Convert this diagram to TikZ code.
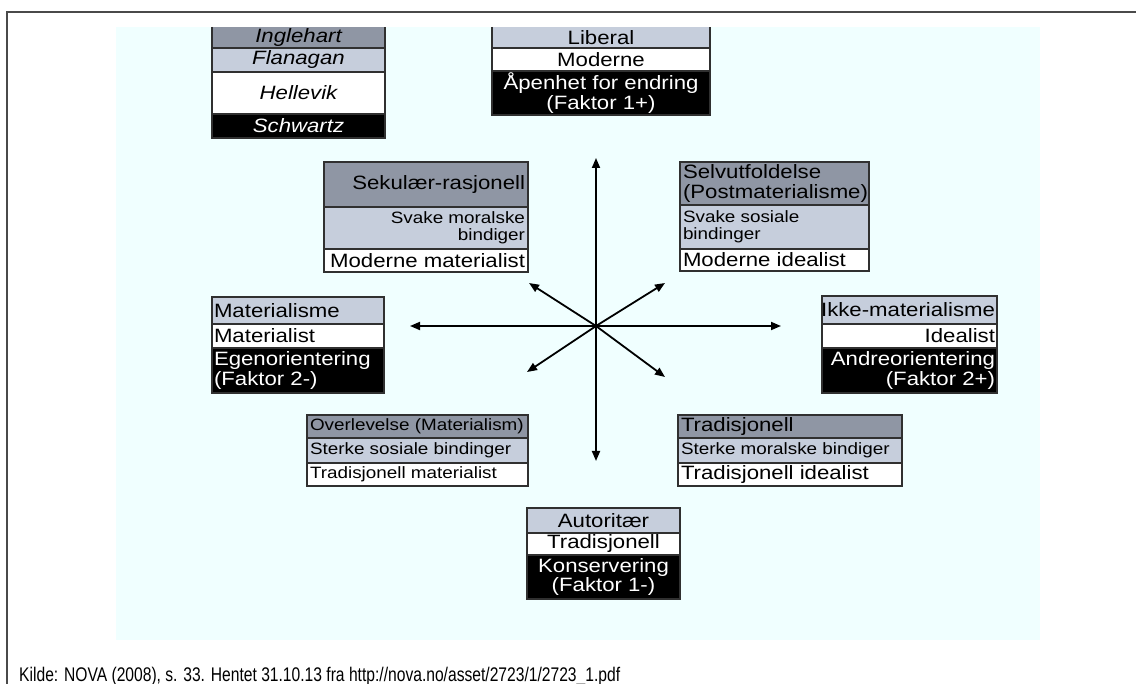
\documentclass[tikz,border=0pt]{standalone}
\usepackage{fontspec}
\setmainfont{Liberation Sans}[FakeStretch=1.15]
\usetikzlibrary{arrows.meta}
\definecolor{bgc}{HTML}{F0FFFF}
\definecolor{dk}{HTML}{8F96A4}
\definecolor{lt}{HTML}{C6CEDC}
\definecolor{edge}{HTML}{303030}
\definecolor{frm}{HTML}{4A4A4A}
\newcommand\fsBig{\fontsize{19.3}{19.5}\selectfont}
\newcommand\fsSmall{\fontsize{16.4}{17.5}\selectfont}
\begin{document}
\begin{tikzpicture}[x=1pt,y=-1pt,
  edgeline/.style={draw=edge, line width=1.2pt},
  txt/.style={inner sep=0pt, outer sep=0pt, font=\fsBig, text=black},
  wtxt/.style={txt, text=white},
  stxt/.style={txt, font=\fsSmall},
  arr/.style={line width=1.8pt, -{Triangle[length=10pt,width=8pt]}}]
\useasboundingbox (0,0) rectangle (1136,684);
% background and frame
\fill[bgc] (116,27) rectangle (1040,640);
\draw[frm, line width=1.6pt] (7,684) -- (7,12) -- (1136,12);

% ---------- legend box ----------
\fill[dk] (212,27) rectangle (385,48);
\fill[lt] (212,48) rectangle (385,72);
\fill[white] (212,72) rectangle (385,114);
\fill[black] (212,114) rectangle (385,138);
\draw[edgeline] (212,27) -- (212,138) -- (385,138) -- (385,27);
\draw[edgeline] (212,48) -- (385,48) (212,72) -- (385,72) (212,114) -- (385,114);
\node[txt, font=\fsBig\itshape] (ing) at (298.5,37.5) {Inglehart};
\node[txt, font=\fsBig\itshape] (fla) at (298.5,60) {Flanagan};
\node[txt, font=\fsBig\itshape] (hel) at (298.5,93) {Hellevik};
\node[wtxt, font=\fsBig\itshape] (sch) at (298.5,126) {Schwartz};

% ---------- top box ----------
\fill[lt] (492,27) rectangle (710,48);
\fill[white] (492,48) rectangle (710,71);
\fill[black] (492,71) rectangle (710,115);
\draw[edgeline] (492,27) -- (492,115) -- (710,115) -- (710,27);
\draw[edgeline] (492,48) -- (710,48) (492,71) -- (710,71);
\node[txt] (lib) at (601,37.5) {Liberal};
\node[txt] (mod) at (601,59.5) {Moderne};
\node[wtxt, align=center] (apn) at (601,93) {Åpenhet for endring\\(Faktor 1+)};

% ---------- Sekulaer box ----------
\fill[dk] (324,162) rectangle (528,207);
\fill[lt] (324,207) rectangle (528,249);
\fill[white] (324,249) rectangle (528,272);
\draw[edgeline] (324,162) rectangle (528,272);
\draw[edgeline] (324,207) -- (528,207) (324,249) -- (528,249);
\node[txt, anchor=east] (sek) at (525,184.5) {Sekulær-rasjonell};
\node[stxt, anchor=east, align=right] (svm) at (525,228) {Svake moralske\\bindiger};
\node[txt, anchor=east] (mma) at (525,260.5) {Moderne materialist};

% ---------- Selvutfoldelse box ----------
\fill[dk] (680,162) rectangle (869,205);
\fill[lt] (680,205) rectangle (869,249);
\fill[white] (680,249) rectangle (869,271);
\draw[edgeline] (680,162) rectangle (869,271);
\draw[edgeline] (680,205) -- (869,205) (680,249) -- (869,249);
\node[txt, anchor=west, align=left] (sel) at (683,183.5) {Selvutfoldelse\\(Postmaterialisme)};
\node[stxt, anchor=west, align=left] (svs) at (683,227) {Svake sosiale\\bindinger};
\node[txt, anchor=west] (mid) at (683,260) {Moderne idealist};

% ---------- Materialisme box ----------
\fill[lt] (212,297) rectangle (384,324);
\fill[white] (212,324) rectangle (384,348);
\fill[black] (212,348) rectangle (384,393);
\draw[edgeline] (212,297) rectangle (384,393);
\draw[edgeline] (212,324) -- (384,324) (212,348) -- (384,348);
\node[txt, anchor=west] (mat) at (214,310.5) {Materialisme};
\node[txt, anchor=west] (mtl) at (214,336) {Materialist};
\node[wtxt, anchor=west, align=left] (ego) at (214,370.5) {Egenorientering\\(Faktor 2-)};

% ---------- Ikke-materialisme box ----------
\fill[lt] (822,296) rectangle (997,324);
\fill[white] (822,324) rectangle (997,348);
\fill[black] (822,348) rectangle (997,393);
\draw[edgeline] (822,296) rectangle (997,393);
\draw[edgeline] (822,324) -- (997,324) (822,348) -- (997,348);
\node[txt, anchor=east] (ikk) at (995,310) {Ikke-materialisme};
\node[txt, anchor=east] (ide) at (995,336) {Idealist};
\node[wtxt, anchor=east, align=right] (and) at (995,370.5) {Andreorientering\\(Faktor 2+)};

% ---------- Overlevelse box ----------
\fill[dk] (307,415) rectangle (528,438);
\fill[lt] (307,438) rectangle (528,463);
\fill[white] (307,463) rectangle (528,486);
\draw[edgeline] (307,415) rectangle (528,486);
\draw[edgeline] (307,438) -- (528,438) (307,463) -- (528,463);
\node[stxt, anchor=west] (ove) at (310,426.5) {Overlevelse (Materialism)};
\node[stxt, anchor=west] (ssb) at (310,450.5) {Sterke sosiale bindinger};
\node[stxt, anchor=west] (tma) at (310,474.5) {Tradisjonell materialist};

% ---------- Tradisjonell box ----------
\fill[dk] (678,415) rectangle (902,438);
\fill[lt] (678,438) rectangle (902,463);
\fill[white] (678,463) rectangle (902,486);
\draw[edgeline] (678,415) rectangle (902,486);
\draw[edgeline] (678,438) -- (902,438) (678,463) -- (902,463);
\node[txt, anchor=west] (tra) at (681,426.5) {Tradisjonell};
\node[stxt, anchor=west] (smb) at (681,450.5) {Sterke moralske bindiger};
\node[txt, anchor=west] (tid) at (681,474.5) {Tradisjonell idealist};

% ---------- Autoritaer box ----------
\fill[lt] (527,508) rectangle (680,533);
\fill[white] (527,533) rectangle (680,555);
\fill[black] (527,555) rectangle (680,599);
\draw[edgeline] (527,508) rectangle (680,599);
\draw[edgeline] (527,533) -- (680,533) (527,555) -- (680,555);
\node[txt] (aut) at (603.5,520.5) {Autoritær};
\node[txt] (trd) at (603.5,544) {Tradisjonell};
\node[wtxt, align=center] (kon) at (603.5,577) {Konservering\\(Faktor 1-)};

% ---------- arrows ----------
\coordinate (C) at (596,326);
\coordinate (aN) at (596,158);
\coordinate (aS) at (596,461);
\coordinate (aW) at (410,326);
\coordinate (aE) at (781,326);
\coordinate (aNW) at (529,283);
\coordinate (aNE) at (665,283);
\coordinate (aSW) at (527,372);
\coordinate (aSE) at (665,377);
\foreach \t in {aN,aS,aW,aE,aNW,aNE,aSW,aSE} \draw[arr] (C) -- (\t);

% ---------- source ----------
\node[anchor=base west, inner sep=0pt] (src) at (19,681)
  {\resizebox{601pt}{14.3pt}{\fontsize{20}{20}\selectfont Kilde: NOVA (2008), s. 33. Hentet 31.10.13 fra http://nova.no/asset/2723/1/2723\_1.pdf}};
\end{tikzpicture}
\end{document}
